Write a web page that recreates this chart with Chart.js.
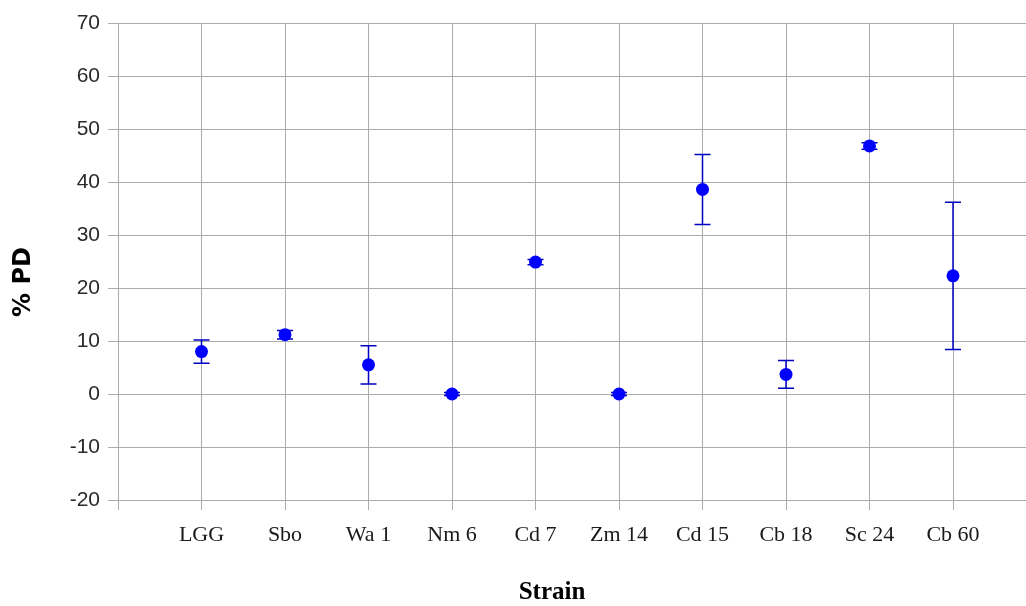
<!DOCTYPE html>
<html>
<head>
<meta charset="utf-8">
<script src="https://cdn.jsdelivr.net/npm/chart.js@4/dist/chart.umd.min.js"></script>
<style>
  html, body { margin: 0; padding: 0; background: #fff; }
  canvas { display: block; }
</style>
</head>
<body>
<canvas id="myChart" width="1026" height="606"></canvas>
<script>
// Strain names (slot 0 is the empty slot before LGG)
const strains = ['', 'LGG', 'Sbo', 'Wa 1', 'Nm 6', 'Cd 7', 'Zm 14', 'Cd 15', 'Cb 18', 'Sc 24', 'Cb 60'];
const strainPos = [1, 2, 3, 4, 5, 6, 7, 8, 9, 10];
// % PD means and error bar half-widths
const pdMean = [8.0, 11.2, 5.5, 0.0, 24.9, 0.0, 38.6, 3.7, 46.8, 22.3];
const pdError = [2.2, 0.8, 3.6, 0.3, 0.5, 0.3, 6.6, 2.6, 0.6, 13.9];
const yTicks = [-20, -10, 0, 10, 20, 30, 40, 50, 60, 70];

const gridColor = '#ababab';

// Error bars, drawn through the chart's own scales
const errorBars = {
    id: 'errorBars',
    beforeDatasetsDraw(chart) {
        const { ctx, scales: { x, y } } = chart;
        ctx.save();
        ctx.strokeStyle = '#0000c0';
        ctx.lineWidth = 1.5;
        strainPos.forEach((pos, i) => {
            const px = x.getPixelForValue(pos);
            const top = y.getPixelForValue(pdMean[i] + pdError[i]);
            const bottom = y.getPixelForValue(pdMean[i] - pdError[i]);
            ctx.beginPath();
            ctx.moveTo(px, top);
            ctx.lineTo(px, bottom);
            ctx.moveTo(px - 8, top);
            ctx.lineTo(px + 8, top);
            ctx.moveTo(px - 8, bottom);
            ctx.lineTo(px + 8, bottom);
            ctx.stroke();
        });
        ctx.restore();
    }
};

// Axis titles (placed like the original, which is not centred on the plot)
const axisTitles = {
    id: 'axisTitles',
    afterDraw(chart) {
        const ctx = chart.ctx;
        ctx.save();
        ctx.fillStyle = '#000';
        ctx.textAlign = 'center';
        ctx.textBaseline = 'middle';
        ctx.font = 'bold 25px "Liberation Serif"';
        ctx.fillText('Strain', 552, 593);
        ctx.translate(24, 282);
        ctx.rotate(-Math.PI / 2);
        ctx.font = 'bold 24px "DejaVu Sans"';
        ctx.fillText('% PD', 0, 0);
        ctx.restore();
    }
};

function renderChart() {
    const points = strainPos.map((pos, i) => ({ x: pos, y: pdMean[i] }));

    const chartConfig = {
        type: 'scatter',
        data: {
            datasets: [{
                label: '% PD',
                data: points,
                backgroundColor: '#0000ff',
                borderColor: '#0000ff',
                borderWidth: 0,
                pointRadius: 6.5,
                pointHoverRadius: 6.5
            }]
        },
        options: {
            responsive: false,
            animation: false,
            // the plot runs off the right edge in the original
            layout: { autoPadding: false, padding: { top: 23, right: 0, bottom: 0, left: 0 } },
            plugins: {
                legend: { display: false },
                tooltip: { enabled: false }
            },
            scales: {
                x: {
                    type: 'linear',
                    min: 0,
                    max: 10.874,
                    afterBuildTicks: scale => {
                        scale.ticks = strains.map((s, i) => ({ value: i }));
                    },
                    afterFit: scale => {
                        scale.height = 106;
                        scale.paddingLeft = 0;
                        scale.paddingRight = 0;
                    },
                    grid: { color: gridColor, lineWidth: 1, tickLength: 10, drawTicks: true },
                    border: { color: gridColor },
                    ticks: {
                        autoSkip: false,
                        maxRotation: 0,
                        padding: 12,
                        color: '#1a1a1a',
                        font: { family: '"Liberation Serif"', size: 22 },
                        callback: v => strains[v] || ''
                    }
                },
                y: {
                    min: -20,
                    max: 70,
                    afterBuildTicks: scale => {
                        scale.ticks = yTicks.map(v => ({ value: v }));
                    },
                    afterFit: scale => { scale.width = 118; },
                    grid: { color: gridColor, lineWidth: 1, tickLength: 10, drawTicks: true },
                    border: { color: gridColor },
                    ticks: {
                        padding: 8,
                        color: '#2a2a2a',
                        font: { family: '"Liberation Sans"', size: 21 }
                    }
                }
            }
        },
        plugins: [errorBars, axisTitles]
    };

    const ctx = document.getElementById('myChart').getContext('2d');
    new Chart(ctx, chartConfig);
}

renderChart();
</script>
</body>
</html>
